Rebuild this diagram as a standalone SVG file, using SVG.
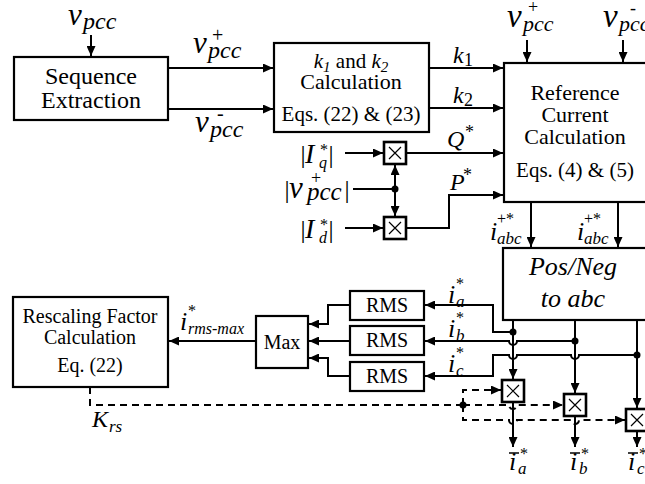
<svg xmlns="http://www.w3.org/2000/svg" width="645" height="484" viewBox="0 0 645 484">
<defs>
<marker id="ah" markerUnits="userSpaceOnUse" markerWidth="11" markerHeight="9" refX="10" refY="4.5" orient="auto">
<path d="M0,0 L10,4.5 L0,9 z" fill="#000"/>
</marker>
<style>
.box{fill:#fff;stroke:#000;stroke-width:2.2}
.mul{fill:#fff;stroke:#000;stroke-width:2.6}
.x{stroke:#000;stroke-width:1.2}
.ln{fill:none;stroke:#000;stroke-width:2;marker-end:url(#ah)}
.pl{fill:none;stroke:#000;stroke-width:2}
.ds{fill:none;stroke:#000;stroke-width:2;stroke-dasharray:7,5}
.da{fill:none;stroke:#000;stroke-width:2;stroke-dasharray:7,5;marker-end:url(#ah)}
.it{font-style:italic}
.c{text-anchor:middle}
</style>
</defs>

<g id="connectors">
<line class="ln" x1="91" y1="35" x2="91" y2="56"/>
<line class="ln" x1="168" y1="68" x2="273" y2="68"/>
<line class="ln" x1="168" y1="109" x2="273" y2="109"/>
<line class="ln" x1="429" y1="68" x2="503" y2="68"/>
<line class="ln" x1="429" y1="108" x2="503" y2="108"/>
<line class="ln" x1="407" y1="153" x2="503" y2="153"/>
<path class="ln" d="M407,228 H449 V195 H503"/>
<line class="ln" x1="527" y1="40" x2="527" y2="62"/>
<line class="ln" x1="623" y1="40" x2="623" y2="62"/>
<line class="ln" x1="345" y1="153" x2="383" y2="153"/>
<line class="ln" x1="345" y1="228" x2="383" y2="228"/>
<line class="pl" x1="353" y1="189" x2="395" y2="189"/>
<line class="ln" x1="395" y1="189" x2="395" y2="165"/>
<line class="ln" x1="395" y1="189" x2="395" y2="216"/>
<circle cx="395" cy="189" r="3.5"/>
<line class="ln" x1="531" y1="202" x2="531" y2="247"/>
<line class="ln" x1="618" y1="202" x2="618" y2="247"/>
<line class="ln" x1="513" y1="320" x2="513" y2="379"/>
<line class="ln" x1="575" y1="320" x2="575" y2="393"/>
<line class="ln" x1="637" y1="320" x2="637" y2="408"/>
<path class="ln" d="M513,332 H493 V305 H425"/>
<path class="ln" d="M575,341 H517 A4,4 0 0 1 509,341 H425"/>
<path class="ln" d="M637,355 H579 A4,4 0 0 1 571,355 H517 A4,4 0 0 1 509,355 H493 V376 H425"/>
<circle cx="513" cy="332" r="3.5"/>
<circle cx="575" cy="341" r="3.5"/>
<circle cx="637" cy="355" r="3.5"/>
<path class="ln" d="M350,305 H328 V324 H309"/>
<line class="ln" x1="350" y1="341" x2="309" y2="341"/>
<path class="ln" d="M350,376 H328 V358 H309"/>
<line class="ln" x1="256" y1="341" x2="169" y2="341"/>
<path class="ds" d="M90,387 V405 H463"/>
<path class="da" d="M463,405 V390 H501"/>
<path class="da" d="M463,405 H509 A4,4 0 0 0 517,405 H563"/>
<path class="da" d="M463,405 V420 H509 A4,4 0 0 0 517,420 H571 A4,4 0 0 0 579,420 H625"/>
<circle cx="463" cy="405" r="3.5"/>
<line class="ln" x1="513" y1="402" x2="513" y2="447"/>
<line class="ln" x1="575" y1="416" x2="575" y2="447"/>
<line class="ln" x1="637" y1="431" x2="637" y2="447"/>
</g>

<g font-family="Liberation Serif, 'Times New Roman', serif" fill="#000">
<g id="seq">
<rect class="box" x="14" y="57" width="154" height="63"/>
<text class="c" x="91" y="84" font-size="24">Sequence</text>
<text class="c" x="91" y="108" font-size="24">Extraction</text>
</g>

<g id="kcalc">
<rect class="box" x="274" y="43" width="155" height="89"/>
<text class="c" x="351" y="68" font-size="21"><tspan class="it">k</tspan><tspan class="it" font-size="15" dy="4">1</tspan><tspan dy="-4"> and </tspan><tspan class="it">k</tspan><tspan class="it" font-size="15" dy="4">2</tspan></text>
<text class="c" x="351" y="89" font-size="22">Calculation</text>
<text class="c" x="351" y="121" font-size="21">Eqs. (22) &amp; (23)</text>
</g>

<g id="refcalc">
<rect class="box" x="504" y="63" width="170" height="139"/>
<text class="c" x="575" y="100" font-size="22">Reference</text>
<text class="c" x="575" y="122" font-size="22">Current</text>
<text class="c" x="575" y="144" font-size="22">Calculation</text>
<text class="c" x="575" y="177" font-size="21">Eqs. (4) &amp; (5)</text>
</g>

<g id="posneg">
<rect class="box" x="503" y="248" width="170" height="72"/>
<text class="c it" x="573" y="275" font-size="26">Pos/Neg</text>
<text class="c it" x="573" y="307" font-size="26">to abc</text>
</g>

<g id="mulq">
<rect class="mul" x="384" y="142" width="22" height="22"/>
<path class="x" d="M389,147 L401,159 M401,147 L389,159"/>
</g>
<g id="muld">
<rect class="mul" x="384" y="217" width="22" height="22"/>
<path class="x" d="M389,222 L401,234 M401,222 L389,234"/>
</g>

<g id="rms1">
<rect class="box" x="350" y="291" width="74" height="29"/>
<text class="c" x="387" y="312" font-size="20">RMS</text>
</g>
<g id="rms2">
<rect class="box" x="350" y="326" width="74" height="29"/>
<text class="c" x="387" y="347" font-size="20">RMS</text>
</g>
<g id="rms3">
<rect class="box" x="350" y="362" width="74" height="29"/>
<text class="c" x="387" y="383" font-size="20">RMS</text>
</g>

<g id="max">
<rect class="box" x="256" y="316" width="52" height="52"/>
<text class="c" x="282" y="349" font-size="20">Max</text>
</g>

<g id="rescale">
<rect class="box" x="13" y="297" width="155" height="90"/>
<text class="c" x="90" y="323" font-size="20">Rescaling Factor</text>
<text class="c" x="90" y="344" font-size="20">Calculation</text>
<text class="c" x="90" y="372" font-size="20">Eq. (22)</text>
</g>

<g id="mula">
<rect class="mul" x="502" y="380" width="22" height="22"/>
<path class="x" d="M507,385 L519,397 M519,385 L507,397"/>
</g>
<g id="mulb">
<rect class="mul" x="564" y="394" width="22" height="22"/>
<path class="x" d="M569,399 L581,411 M581,399 L569,411"/>
</g>
<g id="mulc">
<rect class="mul" x="626" y="409" width="22" height="22"/>
<path class="x" d="M631,414 L643,426 M643,414 L631,426"/>
</g>

<g id="labels">
<text class="it" x="68" y="25" font-size="31">v</text>
<text class="it" x="83" y="29" font-size="24">pcc</text>

<text class="it" x="193" y="53" font-size="31">v</text>
<text class="it" x="208" y="58" font-size="24">pcc</text>
<text x="212" y="42" font-size="20">+</text>

<text class="it" x="195" y="132" font-size="31">v</text>
<text class="it" x="210" y="137" font-size="24">pcc</text>
<text x="217" y="120" font-size="20">-</text>

<text class="it" x="507" y="27" font-size="33">v</text>
<text class="it" x="523" y="31" font-size="22">pcc</text>
<text x="528" y="13" font-size="18">+</text>

<text class="it" x="603" y="27" font-size="33">v</text>
<text class="it" x="619" y="31" font-size="22">pcc</text>
<text x="630" y="14" font-size="18">-</text>

<text class="it" x="453" y="63" font-size="24">k</text>
<text x="464" y="66" font-size="18">1</text>
<text class="it" x="453" y="103" font-size="24">k</text>
<text x="464" y="106" font-size="18">2</text>

<text class="it" x="447" y="147" font-size="24">Q</text>
<text x="465" y="138" font-size="18">*</text>
<text class="it" x="450" y="190" font-size="24">P</text>
<text x="463" y="181" font-size="18">*</text>

<text class="it" x="299" y="163" font-size="26">|</text>
<text class="it" x="305" y="163" font-size="28">I</text>
<text x="320" y="155" font-size="16">*</text>
<text class="it" x="319" y="168" font-size="16">q</text>
<text class="it" x="327" y="163" font-size="26">|</text>

<text class="it" x="283" y="198" font-size="26">|</text>
<text class="it" x="289" y="198" font-size="31">v</text>
<text x="311" y="184" font-size="18">+</text>
<text class="it" x="307" y="200" font-size="25">pcc</text>
<text class="it" x="343" y="198" font-size="26">|</text>

<text class="it" x="299" y="238" font-size="26">|</text>
<text class="it" x="305" y="238" font-size="28">I</text>
<text x="320" y="230" font-size="16">*</text>
<text class="it" x="319" y="243" font-size="16">d</text>
<text class="it" x="327" y="238" font-size="26">|</text>

<text class="it" x="490" y="240" font-size="26">i</text>
<text x="497" y="224" font-size="16">+*</text>
<text class="it" x="497" y="244" font-size="17">abc</text>
<text class="it" x="577" y="240" font-size="26">i</text>
<text x="584" y="224" font-size="16">+*</text>
<text class="it" x="584" y="244" font-size="17">abc</text>

<text class="it" x="448" y="303" font-size="26">i</text>
<text x="456" y="289" font-size="16">*</text>
<text class="it" x="456" y="307" font-size="17">a</text>
<text class="it" x="448" y="337" font-size="26">i</text>
<text x="456" y="323" font-size="16">*</text>
<text class="it" x="456" y="341" font-size="17">b</text>
<text class="it" x="448" y="372" font-size="26">i</text>
<text x="456" y="358" font-size="16">*</text>
<text class="it" x="456" y="376" font-size="17">c</text>

<text class="it" x="180" y="330" font-size="26">i</text>
<text x="188" y="316" font-size="16">*</text>
<text class="it" x="188" y="334" font-size="16">rms-max</text>

<text class="it" x="92" y="427" font-size="24">K</text>
<text class="it" x="109" y="432" font-size="17">rs</text>

<line x1="509" y1="453" x2="519" y2="453" stroke="#000" stroke-width="1.5"/>
<text class="it" x="509" y="470" font-size="26">i</text>
<text x="520" y="459" font-size="16">*</text>
<text class="it" x="518" y="474" font-size="17">a</text>
<line x1="570" y1="453" x2="580" y2="453" stroke="#000" stroke-width="1.5"/>
<text class="it" x="570" y="470" font-size="26">i</text>
<text x="581" y="459" font-size="16">*</text>
<text class="it" x="579" y="474" font-size="17">b</text>
<line x1="628" y1="453" x2="638" y2="453" stroke="#000" stroke-width="1.5"/>
<text class="it" x="628" y="470" font-size="26">i</text>
<text x="639" y="459" font-size="16">*</text>
<text class="it" x="637" y="474" font-size="17">c</text>
</g>
</g>
</svg>
